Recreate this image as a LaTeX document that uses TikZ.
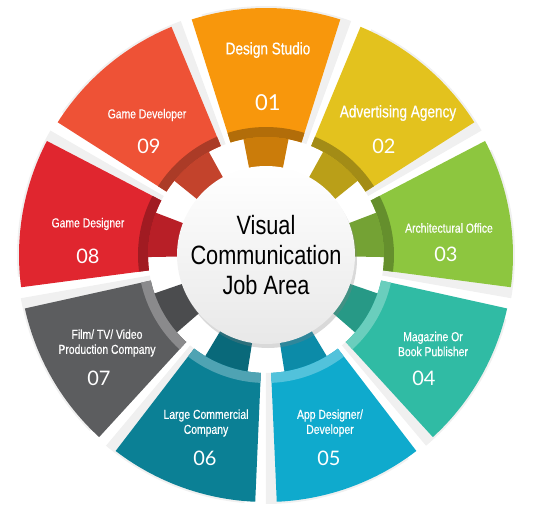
\documentclass[tikz,border=0pt]{standalone}
\usepackage{fontspec}
\setmainfont{Liberation Sans}
\newfontfamily\stretto[FakeStretch=0.82]{Liberation Sans}
\newfontfamily\strettob[FakeStretch=0.8, FakeBold=0.5]{Liberation Sans}
\newfontfamily\cifre{Lato}
\usetikzlibrary{positioning, shadows}

\definecolor{c01}{RGB}{248,151,12}
\definecolor{c02}{RGB}{227,194,30}
\definecolor{c03}{RGB}{141,198,63}
\definecolor{c04}{RGB}{48,187,164}
\definecolor{c05}{RGB}{15,170,205}
\definecolor{c06}{RGB}{11,128,149}
\definecolor{c07}{RGB}{92,93,95}
\definecolor{c08}{RGB}{224,38,47}
\definecolor{c09}{RGB}{238,82,54}

\begin{document}
\begin{tikzpicture}[
  x=1pt, y=1pt,
  ombra/.style={fill=black, opacity=0.06},
  etichetta/.style={text=white, align=center, font=\strettob\fontsize{13}{15}\selectfont},
  titolo/.style={text=white, align=center, font=\strettob\fontsize{17}{20}\selectfont},
  numero/.style={text=white, font=\cifre\fontsize{20}{24}\selectfont},
  centro/.style={circle, minimum size=178pt, inner sep=0pt, top color=white, bottom color=black!9,
                 drop shadow={shadow xshift=2pt, shadow yshift=-4pt, opacity=0.3},
                 align=center, font=\stretto\fontsize{26.5}{30}\selectfont}
]

\path[use as bounding box] (-266,-276) rectangle (276,255);

% settori
\foreach \ang/\col/\mix in {90/c01/black, 50/c02/black, 10/c03/black, -30/c04/white,
                           -70/c05/white, -110/c06/white, -150/c07/white, 170/c08/black, 130/c09/black} {
  \fill[ombra, rotate=-2.5] (\ang-17.5:118) arc[start angle=\ang-17.5, end angle=\ang+17.5, radius=118]
    -- (\ang+17.5:249) arc[start angle=\ang+17.5, end angle=\ang-17.5, radius=249] -- cycle;
  \fill[\col!82!black] (\ang-11:80) arc[start angle=\ang-11, end angle=\ang+11, radius=80]
    -- (\ang+11:125) arc[start angle=\ang+11, end angle=\ang-11, radius=125] -- cycle;
  \fill[\col] (\ang-17.5:118) arc[start angle=\ang-17.5, end angle=\ang+17.5, radius=118]
    -- (\ang+17.5:247) arc[start angle=\ang+17.5, end angle=\ang-17.5, radius=247] -- cycle;
  \fill[\col!72!\mix] (\ang-17.5:118) arc[start angle=\ang-17.5, end angle=\ang+17.5, radius=118]
    -- (\ang+17.5:128) arc[start angle=\ang+17.5, end angle=\ang-17.5, radius=128] -- cycle;
}

\node[centro] (centro) at (0,0) {Visual\\Communication\\Job Area};

% testi
\node[titolo] (t01) at (2,205) {Design Studio};
\node[numero, font=\cifre\fontsize{22}{26}\selectfont] (n01) at (2,152) {01};
\node[titolo] (t02) at (132,142) {Advertising Agency};
\node[numero] (n02) at (118,109) {02};
\node[etichetta] (t03) at (183,27) {Architectural Office};
\node[numero] (n03) at (180,1) {03};
\node[etichetta] (t04) at (167,-89) {Magazine Or\\Book Publisher};
\node[numero] (n04) at (158,-123) {04};
\node[etichetta] (t05) at (64,-168) {App Designer/\\Developer};
\node[numero] (n05) at (63,-203) {05};
\node[etichetta] (t06) at (-60,-168) {Large Commercial\\Company};
\node[numero] (n06) at (-61,-203) {06};
\node[etichetta] (t07) at (-159,-88) {Film/ TV/ Video\\Production Company};
\node[numero] (n07) at (-167,-123) {07};
\node[etichetta] (t08) at (-178,31) {Game Designer};
\node[numero] (n08) at (-178,-1) {08};
\node[etichetta] (t09) at (-119,140) {Game Developer};
\node[numero] (n09) at (-117,109) {09};

\end{tikzpicture}
\end{document}
